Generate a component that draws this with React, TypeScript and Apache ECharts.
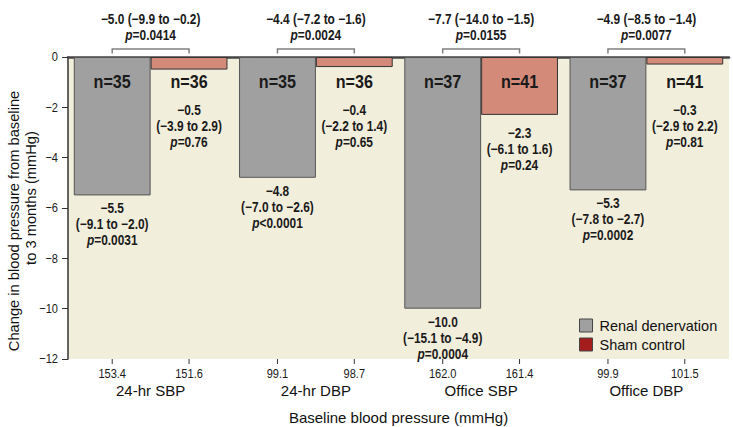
import React, { useEffect, useRef } from "react";
import * as echarts from "echarts";

const categories = ["24-hr SBP", "24-hr DBP", "Office SBP", "Office DBP"];
const rdnValues = [-5.5, -4.8, -10.0, -5.3];
const shamValues = [-0.5, -0.4, -2.3, -0.3];
const rdnN = [35, 35, 37, 37];
const shamN = [36, 36, 41, 41];
const rdnCI = ["(−9.1 to −2.0)", "(−7.0 to −2.6)", "(−15.1 to −4.9)", "(−7.8 to −2.7)"];
const rdnP = ["p=0.0031", "p<0.0001", "p=0.0004", "p=0.0002"];
const shamCI = ["(−3.9 to 2.9)", "(−2.2 to 1.4)", "(−6.1 to 1.6)", "(−2.9 to 2.2)"];
const shamP = ["p=0.76", "p=0.65", "p=0.24", "p=0.81"];
const diffValues = [-5.0, -4.4, -7.7, -4.9];
const diffCI = ["(−9.9 to −0.2)", "(−7.2 to −1.6)", "(−14.0 to −1.5)", "(−8.5 to −1.4)"];
const diffP = ["p=0.0414", "p=0.0024", "p=0.0155", "p=0.0077"];
const baselineRDN = ["153.4", "99.1", "162.0", "99.9"];
const baselineSham = ["151.6", "98.7", "161.4", "101.5"];
const yTickValues = [0, -2, -4, -6, -8, -10, -12];
const yMin = -12;
const yMax = 0;
const yInterval = 2;

const FONT = "'Liberation Sans', Arial, sans-serif";
const CAT_GAP = 0.07;
const NARROW_SCALE = 0.85;

const fmt = (v: number) => v.toFixed(1).replace("-", "−");
const pRich = (p: string) => `{i|p}${p.slice(1)}`;

export default function App() {
  const ref = useRef<HTMLDivElement>(null);
  useEffect(() => {
    document.body.style.margin = "0";
    if (!ref.current) return;
    const chart = echarts.init(ref.current, undefined, { renderer: "svg" });
    const textBase = { fontFamily: FONT, fontWeight: "bold", fontSize: 14, lineHeight: 16, fill: "#1a1a1a" };
    const richI = { i: { ...textBase, fontStyle: "italic" } };

    const narrowText = (x: number, y: number, style: any) => ({
      type: "text",
      x,
      y,
      scaleX: NARROW_SCALE,
      style: { ...textBase, ...style, x: 0, y: 0 },
    });

    const renderItem = (params: any, api: any) => {
      const i = params.dataIndex;
      const c = api.coord([i, 0]);
      const y0 = c[1];
      const band = api.size([1, 0])[0];
      const bw = (band * (1 - CAT_GAP)) / 2;
      const xr = c[0] - bw / 2;
      const xs = c[0] + bw / 2;
      const yB = api.coord([i, yMin])[1];
      const yR = api.coord([i, rdnValues[i]])[1];
      const yS = api.coord([i, shamValues[i]])[1];
      const shamTop = Math.max(yS + 18, y0 + 53) - 8;
      const children: any[] = [
        narrowText(xr, y0 + 25, { text: `n=${rdnN[i]}`, fontSize: 19, align: "center", verticalAlign: "middle" }),
        narrowText(xs, y0 + 25, { text: `n=${shamN[i]}`, fontSize: 19, align: "center", verticalAlign: "middle" }),
        narrowText(xr, yR + 5, { text: `${fmt(rdnValues[i])}\n${rdnCI[i]}\n${pRich(rdnP[i])}`, rich: richI, align: "center", verticalAlign: "top" }),
        narrowText(xs, shamTop, { text: `${fmt(shamValues[i])}\n${shamCI[i]}\n${pRich(shamP[i])}`, rich: richI, align: "center", verticalAlign: "top" }),
        narrowText(c[0], y0 - 14, { text: `${fmt(diffValues[i])} ${diffCI[i]}\n${pRich(diffP[i])}`, rich: richI, align: "center", verticalAlign: "bottom" }),
        { type: "polyline", shape: { points: [[xr, y0 - 3.5], [xr, y0 - 8], [xs, y0 - 8], [xs, y0 - 3.5]] }, style: { stroke: "#808080", lineWidth: 1.5, fill: null } },
        { type: "line", shape: { x1: xr, y1: yB, x2: xr, y2: yB + 5 }, style: { stroke: "#333", lineWidth: 1 } },
        { type: "line", shape: { x1: xs, y1: yB, x2: xs, y2: yB + 5 }, style: { stroke: "#333", lineWidth: 1 } },
        narrowText(xr, yB + 15, { text: baselineRDN[i], fontSize: 13, fontWeight: "normal", align: "center", verticalAlign: "middle" }),
        narrowText(xs, yB + 15, { text: baselineSham[i], fontSize: 13, fontWeight: "normal", align: "center", verticalAlign: "middle" }),
      ];
      if (i === 0) {
        const xLeft = c[0] - band / 2;
        yTickValues.forEach((v) => {
          const yy = api.coord([0, v])[1];
          children.push(
            narrowText(xLeft - 10, yy, { text: String(v).replace("-", "−"), fontSize: 13, fontWeight: "normal", align: "right", verticalAlign: "middle" })
          );
        });
      }
      return { type: "group", children };
    };

    chart.setOption({
      animation: false,
      grid: {
        left: 68,
        right: 4,
        top: 57,
        bottom: 68,
        show: true,
        backgroundColor: "#f2eedc",
        borderWidth: 0,
        outerBoundsMode: "none",
      },
      graphic: [
        {
          type: "text",
          x: 14,
          y: 221,
          rotation: Math.PI / 2,
          style: { text: "Change in blood pressure from baseline", fontFamily: FONT, fontSize: 14.7, fill: "#111", align: "center", verticalAlign: "middle" },
        },
        {
          type: "text",
          x: 31,
          y: 198,
          rotation: Math.PI / 2,
          style: { text: "to 3 months (mmHg)", fontFamily: FONT, fontSize: 14.7, fill: "#111", align: "center", verticalAlign: "middle" },
        },
      ],
      legend: {
        orient: "vertical",
        left: 579,
        top: 318,
        padding: 0,
        itemWidth: 13,
        itemHeight: 13,
        itemGap: 4,
        icon: "rect",
        textStyle: { fontFamily: FONT, fontSize: 14.5, color: "#111", padding: [0, 0, 0, 2] },
        itemStyle: { borderColor: "#444", borderWidth: 1 },
        data: [
          { name: "Renal denervation", itemStyle: { color: "#a0a0a0" } },
          { name: "Sham control", itemStyle: { color: "#a51c1c" } },
        ],
      },
      xAxis: {
        type: "category",
        data: categories,
        axisLine: { lineStyle: { color: "#444", width: 2.5 } },
        axisTick: { show: false },
        axisLabel: { margin: 24, fontFamily: FONT, fontSize: 15, color: "#111" },
        name: "Baseline blood pressure (mmHg)",
        nameLocation: "middle",
        nameGap: 51,
        nameTextStyle: { fontFamily: FONT, fontSize: 15, color: "#111" },
      },
      yAxis: {
        type: "value",
        min: yMin,
        max: yMax,
        interval: yInterval,
        splitLine: { show: false },
        axisLine: { show: true, lineStyle: { color: "#333", width: 1.5 } },
        axisTick: { show: true, length: 6, lineStyle: { color: "#333" } },
        axisLabel: { show: false },
      },
      series: [
        {
          name: "Renal denervation",
          type: "bar",
          data: rdnValues,
          barGap: "0%",
          barCategoryGap: `${CAT_GAP * 100}%`,
          itemStyle: { color: "#a0a0a0", borderColor: "#555", borderWidth: 1 },
        },
        {
          name: "Sham control",
          type: "bar",
          data: shamValues,
          barGap: "0%",
          barCategoryGap: `${CAT_GAP * 100}%`,
          itemStyle: { color: "#d38a79", borderColor: "#333", borderWidth: 1 },
        },
        {
          type: "custom",
          renderItem,
          data: categories.map((_, i) => [i, 0]),
          encode: { x: 0, y: 1 },
          clip: false,
          silent: true,
          z: 10,
        },
      ],
    });
    return () => chart.dispose();
  }, []);
  return <div ref={ref} style={{ width: 733, height: 427 }} />;
}
